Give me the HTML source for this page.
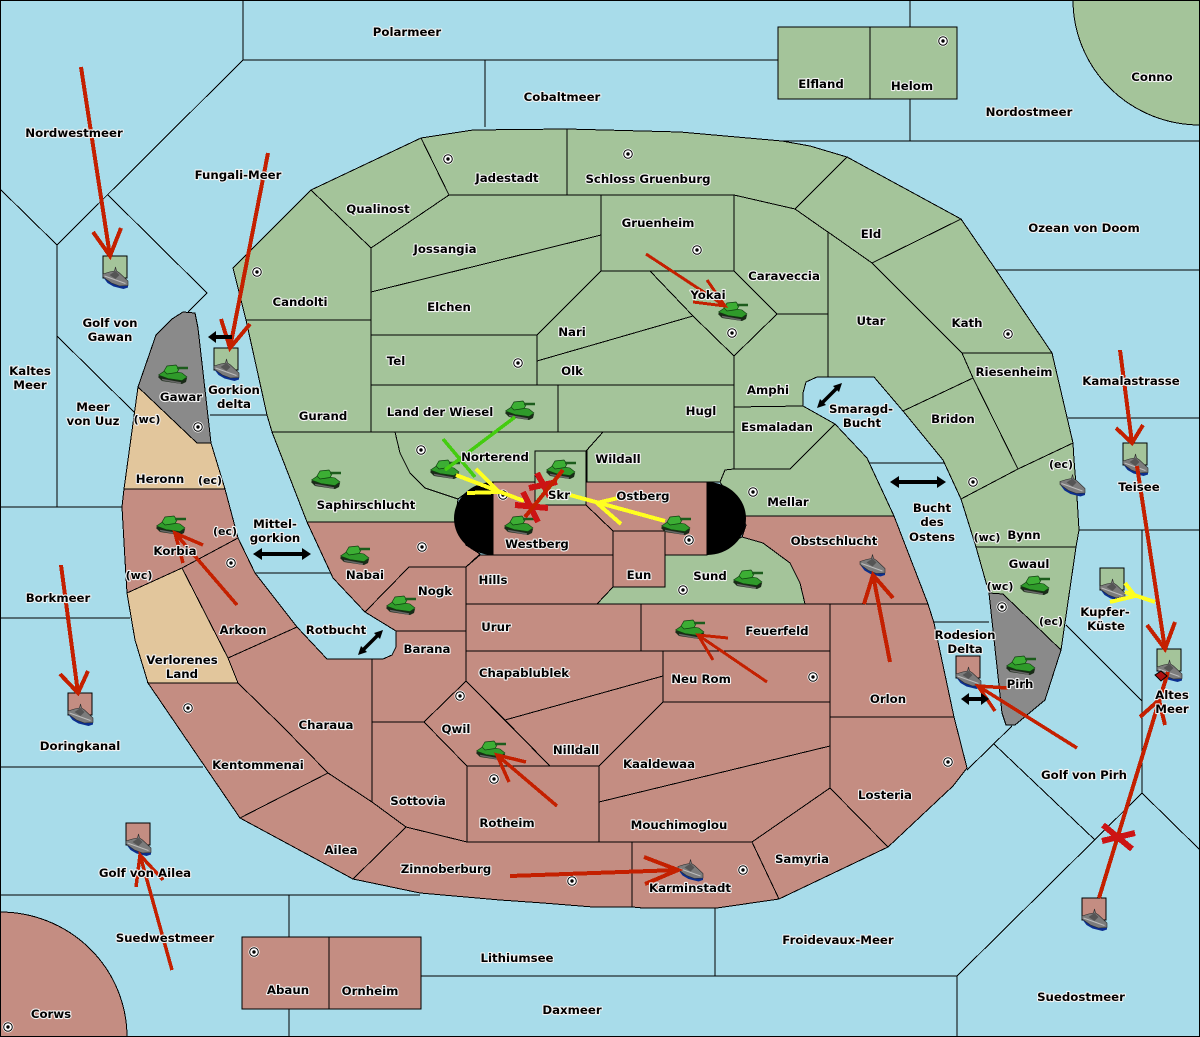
<!DOCTYPE html>
<html><head><meta charset="utf-8"><style>
html,body{margin:0;padding:0;background:#a8dcea}
svg{display:block}
text{font-family:"DejaVu Sans","Liberation Sans",sans-serif;font-size:11.75px;font-weight:700;text-anchor:middle;fill:#000;stroke:#f2f2f2;stroke-width:2.2px;paint-order:stroke;stroke-linejoin:round}
.s{font-size:11px}
</style></head><body>
<svg width="1200" height="1037" viewBox="0 0 1200 1037" xmlns="http://www.w3.org/2000/svg">
<defs>
<g id="t"><path d="M-15,3 L-11,-1 L14,4 L13,8 L9,10 L-11,7Z" fill="#1a2a18"/><path d="M-14.500,1 L-7,-4 L9,-1 L14,3 L9,6.500 L-5,4.500Z" fill="#2f9a2a" stroke="#0f3f0f" stroke-width=".6"/><path d="M-9,-3 L-6,-8 L3,-9 L6,-5 L4,-1.500 L-6,0Z" fill="#3cae34" stroke="#0f3f0f" stroke-width=".7"/><path d="M4,-6H15" stroke="#1c5c1c" stroke-width="2.500"/><path d="M-11,5.500 L8,9" stroke="#666" stroke-width="1.500"/></g>
<g id="f"><path d="M-12.500,-1 L-8,5 L-2,8.500 L8,11 L12.500,9.500 L12.500,6 L0,4Z" fill="#0b2f8f"/><path d="M-12.500,-4 L-6,-6 L-1,-7 L0,-11 L1,-7 L4,-5 L12.500,3 L12.500,7.500 L4,8 L-4,5 L-12.500,-1Z" fill="#7c7c7c" stroke="#2a2a2a" stroke-width=".6"/><path d="M-6,-3 L0,-7 L4,-3 L0,1Z" fill="#555"/><path d="M-11,-2 L10,5.500" stroke="#bdbdbd" stroke-width="1"/></g>
<g id="c"><circle r="5.500" fill="#fff"/><circle r="4.300" fill="none" stroke="#000" stroke-width="1"/><circle r="1.700" fill="#000"/></g>
</defs>
<rect width="1200" height="1037" fill="#a8dcea"/>
<g shape-rendering="crispEdges">
<path d="M1073,0A127,125 0 0 0 1200,125V0Z" fill="#a4c49a" stroke="#000"/>
<path d="M0,912A127,125 0 0 1 127,1037H0Z" fill="#c48d82" stroke="#000"/>
<path fill="none" stroke="#000" d="M243,0V60H778M910,0V27M910,99V141M782,141H1200M485,60V127M243,60L57,245L0,189M57,245V507M108,195L207,293L188,312M57,336L135,413M0,507H122M0,618H130M0,767H203M0,895H420M289,895V937M289,1009V1037M421,976H957M715,908V976M957,976V1037M957,976L1142,793V530M1078,530H1200M1066,625L1142,701M1142,793L1200,850M967,770L1012,726M994,744L1095,840M996,270H1200M1068,418H1200M869,463H945M934,622H989M255,573H332M210,415H267"/>
<g stroke="#000" fill="#a4c49a">
<polygon points="233,268 311,190 371,248 371,320 246,320 241,300"/>
<polygon points="246,320 371,320 371,432 272,432 267,415"/>
<polygon points="311,190 421,138 449,195 371,248"/>
<polygon points="421,138 473,130 567,129 567,195 449,195"/>
<polygon points="567,129 680,132 782,141 810,146 847,157 795,209 734,195 567,195"/>
<polygon points="449,195 601,195 601,235 371,292 371,248"/>
<polygon points="371,292 601,235 601,271 537,335 371,335"/>
<polygon points="601,271 650,271 693,316 537,361 537,335"/>
<polygon points="601,195 734,195 734,271 601,271"/>
<polygon points="650,271 734,271 777,314 734,356 693,316"/>
<polygon points="537,361 693,316 734,356 734,385 537,385"/>
<polygon points="371,335 537,335 537,385 371,385"/>
<polygon points="371,385 558,385 558,432 371,432"/>
<polygon points="558,385 734,385 734,432 558,432"/>
<polygon points="603,432 734,432 734,469 725,470 720,482 587,482 587,450"/>
<polygon points="734,195 795,209 828,232 828,314 777,314 734,271"/>
<polygon points="734,356 777,314 828,314 828,377 817,377 806,382 803,393 803,406 734,407"/>
<polygon points="734,407 803,406 835,424 790,469 734,469"/>
<polygon points="734,469 790,469 835,424 867,458 894,516 741,516 720,482 725,470"/>
<polygon points="847,157 961,219 872,263 795,209"/>
<polygon points="961,219 996,270 1052,353 962,353 917,308 872,263"/>
<polygon points="828,232 872,263 917,308 962,353 973,378 903,411 874,377 828,377"/>
<polygon points="962,353 1052,353 1073,443 1018,469 973,378"/>
<polygon points="973,378 1018,469 961,499 943,460 903,411"/>
<polygon points="1018,469 1073,443 1074,460 1077,497 1079,530 1076,547 976,547 961,499"/>
<polygon points="976,547 1076,547 1061,650 1003,594 989,593"/>
<polygon points="395,432 603,432 586,451 535,451 535,482 493,482 470,490 458,499 425,488 410,473 400,453"/>
<polygon points="272,432 395,432 400,453 410,473 425,488 458,499 455,522 307,522"/>
<polygon points="535,451 586,451 586,505 535,505"/>
<polygon points="742,537 763,543 790,563 800,583 805,604 597,604 613,587 665,587 665,555 707,555"/>
</g>
<g stroke="#000" fill="#c48d82">
<polygon points="307,522 455,522 466,545 480,554 466,567 409,567 365,612 333,578"/>
<polygon points="409,567 466,567 466,631 396,631 365,612"/>
<polygon points="466,567 480,555 613,555 613,587 597,604 466,604"/>
<polygon points="493,482 535,482 535,505 586,505 613,531 613,555 493,555"/>
<polygon points="586,482 707,482 707,555 665,555 665,531 613,531 586,505"/>
<polygon points="613,531 665,531 665,587 613,587"/>
<polygon points="741,516 894,516 928,604 830,604 805,604 800,583 790,563 763,543 742,537 746,525"/>
<polygon points="466,604 641,604 641,651 466,651"/>
<polygon points="641,604 830,604 830,651 641,651"/>
<polygon points="663,651 830,651 830,702 663,702"/>
<polygon points="830,604 928,604 934,623 954,717 830,717"/>
<polygon points="830,717 954,717 967,768 953,786 888,847 830,788"/>
<polygon points="830,788 888,847 779,899 752,842"/>
<polygon points="663,702 830,702 830,746 599,802 599,766"/>
<polygon points="599,802 830,746 830,788 752,842 599,842"/>
<polygon points="466,651 663,651 663,676 505,720 466,681"/>
<polygon points="505,720 663,676 663,702 599,766 550,766"/>
<polygon points="466,681 550,766 467,766 424,722"/>
<polygon points="467,766 599,766 599,842 467,842"/>
<polygon points="396,631 466,631 466,681 424,722 372,722 372,659 383,659 392,655 396,647"/>
<polygon points="372,722 424,722 467,766 467,842 406,827 372,802"/>
<polygon points="228,658 297,627 327,659 372,659 372,802 328,773 283,727 238,683"/>
<polygon points="182,568 238,538 255,573 297,627 228,658"/>
<polygon points="122,507 124,489 225,489 238,538 182,568 127,593 125,560"/>
<polygon points="148,683 238,683 283,727 328,773 240,818"/>
<polygon points="240,818 328,773 372,802 406,827 353,879"/>
<polygon points="353,879 406,827 467,842 632,842 632,907 593,907 543,903 500,900 420,893"/>
<polygon points="632,842 752,842 779,899 717,908 643,908 632,907"/>
</g>
<g stroke="#000" fill="#e2c69c">
<polygon points="124,489 138,387 197,443 211,443 225,489"/>
<polygon points="127,593 182,568 228,658 238,683 148,683 135,640"/>
</g>
<g stroke="#000" fill="#8a8a8a">
<polygon points="138,387 156,335 172,319 183,312 195,313 198,328 211,443 197,443"/>
<polygon points="989,593 1003,594 1061,650 1045,700 1015,725 1006,725 1002,713"/>
</g>
<g stroke="#000" fill="#a4c49a">
<rect x="778" y="27" width="92" height="72"/><rect x="870" y="27" width="87" height="72"/>
<rect x="103" y="256" width="24" height="22"/><rect x="214" y="348" width="24" height="22"/><rect x="1123" y="443" width="24" height="22"/><rect x="1100" y="568" width="24" height="22"/><rect x="1157" y="649" width="24" height="22"/>
</g>
<g stroke="#000" fill="#c48d82">
<rect x="242" y="937" width="87" height="72"/><rect x="329" y="937" width="92" height="72"/>
<rect x="956" y="656" width="24" height="22"/><rect x="126" y="823" width="24" height="22"/><rect x="1082" y="898" width="24" height="22"/><rect x="68" y="693" width="24" height="22"/>
</g>
<rect x=".5" y=".5" width="1199" height="1036" fill="none" stroke="#000"/>
</g>
<path d="M493,482A39,36.500 0 0 0 493,555Z M707,482A39,36.500 0 0 1 707,555Z" fill="#000"/>
<g>
<use href="#c" x="257" y="272"/><use href="#c" x="448" y="159"/><use href="#c" x="628" y="154"/><use href="#c" x="697" y="250"/><use href="#c" x="732" y="333"/><use href="#c" x="518" y="363"/><use href="#c" x="421" y="450"/><use href="#c" x="503" y="495"/><use href="#c" x="689" y="540"/><use href="#c" x="753" y="492"/><use href="#c" x="973" y="482"/><use href="#c" x="1008" y="334"/><use href="#c" x="1002" y="607"/><use href="#c" x="422" y="547"/><use href="#c" x="231" y="563"/><use href="#c" x="198" y="427"/><use href="#c" x="188" y="708"/><use href="#c" x="460" y="696"/><use href="#c" x="494" y="779"/><use href="#c" x="813" y="677"/><use href="#c" x="948" y="762"/><use href="#c" x="743" y="870"/><use href="#c" x="572" y="881"/><use href="#c" x="254" y="952"/><use href="#c" x="8" y="1027"/><use href="#c" x="943" y="41"/><use href="#c" x="683" y="590"/>
</g>
<g>
<use href="#f" x="115.500" y="278"/><use href="#f" x="226.500" y="370"/><use href="#f" x="872.500" y="565.500"/><use href="#f" x="1072.500" y="485.500"/><use href="#f" x="1135.500" y="465"/><use href="#f" x="1112.500" y="590"/><use href="#f" x="1169.500" y="671"/><use href="#f" x="968.500" y="678"/><use href="#f" x="138.500" y="845"/><use href="#f" x="690.500" y="870.500"/><use href="#f" x="1094.500" y="920"/><use href="#f" x="80.500" y="715"/>
</g>
<g>
<use href="#t" x="173" y="374"/><use href="#t" x="171" y="525"/><use href="#t" x="326" y="479"/><use href="#t" x="445" y="469"/><use href="#t" x="520" y="410"/><use href="#t" x="561" y="469"/><use href="#t" x="519" y="525"/><use href="#t" x="676" y="525"/><use href="#t" x="355" y="555"/><use href="#t" x="401" y="605"/><use href="#t" x="690" y="629"/><use href="#t" x="491" y="750"/><use href="#t" x="748" y="579"/><use href="#t" x="1035" y="585"/><use href="#t" x="1021" y="665"/><use href="#t" x="733" y="311"/>
</g>
<g fill="none" stroke="#c42000" stroke-width="4" shape-rendering="crispEdges">
<path d="M81,67L110,256M93,232L110,256L121,228"/>
<path d="M268,153L230,348M221,319L230,348L250,324"/>
<path stroke-width="3" d="M646,254L725,306M707,280L725,306L693,302"/>
<path stroke-width="3.500" d="M237,605L175,533M203,545L175,533L183,563"/>
<path d="M890,662L873,575M893,598L873,575L864,604"/>
<path stroke-width="3" d="M767,682L698,635M728,638L698,635L713,660"/>
<path stroke-width="3.500" d="M557,806L497,755M526,762L497,755L509,782"/>
<path d="M510,876L678,870M644,857L678,870L645,884"/>
<path d="M61,565L78,693M60,674L78,693L88,671"/>
<path stroke-width="3.500" d="M172,970L140,855M136,887L140,855L163,880"/>
<path stroke-width="3.500" d="M1077,748L978,686M1008,688L978,686L995,711"/>
<path d="M1120,350L1132,443M1116,428L1132,443L1143,425"/>
<path d="M1137,466L1165,649M1147,625L1165,649L1175,622"/>
<path d="M1099,898L1168,672M1140,717L1159,700L1165,725"/>
</g>
<path d="M1155,675l6,-4l6,5l-6,5z" fill="#b01010" stroke="#000"/>
<g fill="none" stroke="#ffff20" stroke-width="4" shape-rendering="crispEdges">
<path d="M456,475L524,501M476,469L499,492L467,493"/>
<path d="M665,521L570,495M618,498L597,503L621,524"/>
<path d="M1155,602L1125,592M1125,583L1135,596L1110,602"/>
</g>
<g fill="none" stroke="#cc1414" stroke-width="6" shape-rendering="crispEdges">
<path d="M1103,825L1132,849M1102,841L1135,833"/>
<path d="M537,473L550,497M529,488L557,482"/>
<path d="M523,492L538,522M515,505L548,508"/>
<path d="M563,470L525,517" stroke="#c42000" stroke-width="4"/>
</g>
<g fill="none" stroke="#44cc10" stroke-width="3.500" shape-rendering="crispEdges">
<path d="M515,417L445,470M443,439L475,477"/>
</g>
<g fill="none" stroke="#000" stroke-width="4">
<path d="M232,337H214"/><path d="M208,337l8,-6v12z" fill="#000" stroke="none"/>
<path d="M259,554H306"/><path d="M253,554l9,-6v12zM311,554l-9,-6v12z" fill="#000" stroke="none"/>
<path d="M896,482H940"/><path d="M890,482l9,-6v12zM946,482l-9,-6v12z" fill="#000" stroke="none"/>
<path d="M967,699H984"/><path d="M961,699l8,-6v12zM989,699l-8,-6v12z" fill="#000" stroke="none"/>
<path d="M821,404L838,387" stroke-width="3.500"/><path d="M817,408l3,-9l6,6zM842,383l-9,3l6,6z" fill="#000" stroke="none"/>
<path d="M362,651L379,634" stroke-width="3.500"/><path d="M358,655l3,-9l6,6zM383,630l-9,3l6,6z" fill="#000" stroke="none"/>
</g>
<g>
<text x="407" y="36">Polarmeer</text><text x="562" y="101">Cobaltmeer</text><text x="821" y="88">Elfland</text><text x="912" y="90">Helom</text><text x="1152" y="81">Conno</text><text x="1029" y="116">Nordostmeer</text><text x="74" y="137">Nordwestmeer</text><text x="238" y="179">Fungali-Meer</text><text x="507" y="182">Jadestadt</text><text x="648" y="183">Schloss Gruenburg</text><text x="378" y="213">Qualinost</text><text x="658" y="227">Gruenheim</text><text x="1084" y="232">Ozean von Doom</text><text x="871" y="238">Eld</text><text x="445" y="253">Jossangia</text><text x="784" y="280">Caraveccia</text><text x="708" y="299">Yokai</text><text x="300" y="306">Candolti</text><text x="449" y="311">Elchen</text><text x="871" y="325">Utar</text><text x="967" y="327">Kath</text><text x="572" y="336">Nari</text><text x="396" y="365">Tel</text><text x="572" y="375">Olk</text><text x="1014" y="376">Riesenheim</text><text x="1131" y="385">Kamalastrasse</text>
<text x="30" y="375">Kaltes</text><text x="30" y="389">Meer</text><text x="110" y="327">Golf von</text><text x="110" y="341">Gawan</text><text x="93" y="411">Meer</text><text x="93" y="425">von Uuz</text><text class="s" x="147" y="423">(wc)</text><text x="181" y="401">Gawar</text><text x="234" y="394">Gorkion</text><text x="234" y="408">delta</text><text x="323" y="420">Gurand</text><text x="440" y="416">Land der Wiesel</text><text x="701" y="415">Hugl</text><text x="768" y="394">Amphi</text><text x="777" y="431">Esmaladan</text><text x="861" y="413">Smaragd-</text><text x="862" y="427">Bucht</text><text x="953" y="423">Bridon</text><text x="495" y="461">Norterend</text><text x="618" y="463">Wildall</text><text x="559" y="499">Skr</text><text x="643" y="500">Ostberg</text><text x="788" y="506">Mellar</text>
<text x="160" y="483">Heronn</text><text class="s" x="210" y="484">(ec)</text><text x="366" y="509">Saphirschlucht</text><text x="932" y="512">Bucht</text><text x="932" y="526">des</text><text x="932" y="541">Ostens</text><text x="1024" y="539">Bynn</text><text class="s" x="987" y="541">(wc)</text><text x="275" y="528">Mittel-</text><text x="275" y="542">gorkion</text><text class="s" x="225" y="535">(ec)</text><text x="175" y="555">Korbia</text><text class="s" x="139" y="579">(wc)</text><text x="537" y="548">Westberg</text><text x="834" y="545">Obstschlucht</text><text x="1029" y="568">Gwaul</text><text class="s" x="1000" y="590">(wc)</text><text class="s" x="1061" y="468">(ec)</text><text class="s" x="1051" y="625">(ec)</text><text x="365" y="579">Nabai</text><text x="493" y="584">Hills</text><text x="639" y="579">Eun</text><text x="710" y="580">Sund</text><text x="435" y="595">Nogk</text><text x="58" y="602">Borkmeer</text><text x="1105" y="616">Kupfer-</text><text x="1106" y="630">Küste</text><text x="336" y="634">Rotbucht</text><text x="243" y="634">Arkoon</text><text x="496" y="631">Urur</text><text x="777" y="635">Feuerfeld</text><text x="427" y="653">Barana</text><text x="965" y="639">Rodesion</text><text x="965" y="653">Delta</text>
<text x="182" y="664">Verlorenes</text><text x="182" y="678">Land</text><text x="524" y="677">Chapablublek</text><text x="701" y="683">Neu Rom</text><text x="1020" y="688">Pirh</text><text x="1172" y="699">Altes</text><text x="1172" y="713">Meer</text><text x="888" y="703">Orlon</text><text x="326" y="729">Charaua</text><text x="456" y="733">Qwil</text><text x="80" y="750">Doringkanal</text><text x="576" y="754">Nilldall</text><text x="659" y="768">Kaaldewaa</text><text x="258" y="769">Kentommenai</text><text x="1084" y="779">Golf von Pirh</text><text x="885" y="799">Losteria</text><text x="418" y="805">Sottovia</text><text x="507" y="827">Rotheim</text><text x="679" y="829">Mouchimoglou</text><text x="341" y="854">Ailea</text><text x="802" y="863">Samyria</text><text x="446" y="873">Zinnoberburg</text><text x="145" y="877">Golf von Ailea</text><text x="690" y="892">Karminstadt</text><text x="165" y="942">Suedwestmeer</text><text x="838" y="944">Froidevaux-Meer</text><text x="517" y="962">Lithiumsee</text><text x="288" y="994">Abaun</text><text x="370" y="995">Ornheim</text><text x="1081" y="1001">Suedostmeer</text><text x="572" y="1014">Daxmeer</text><text x="51" y="1018">Corws</text><text x="1139" y="491">Teisee</text>
</g>
</svg>
</body></html>
